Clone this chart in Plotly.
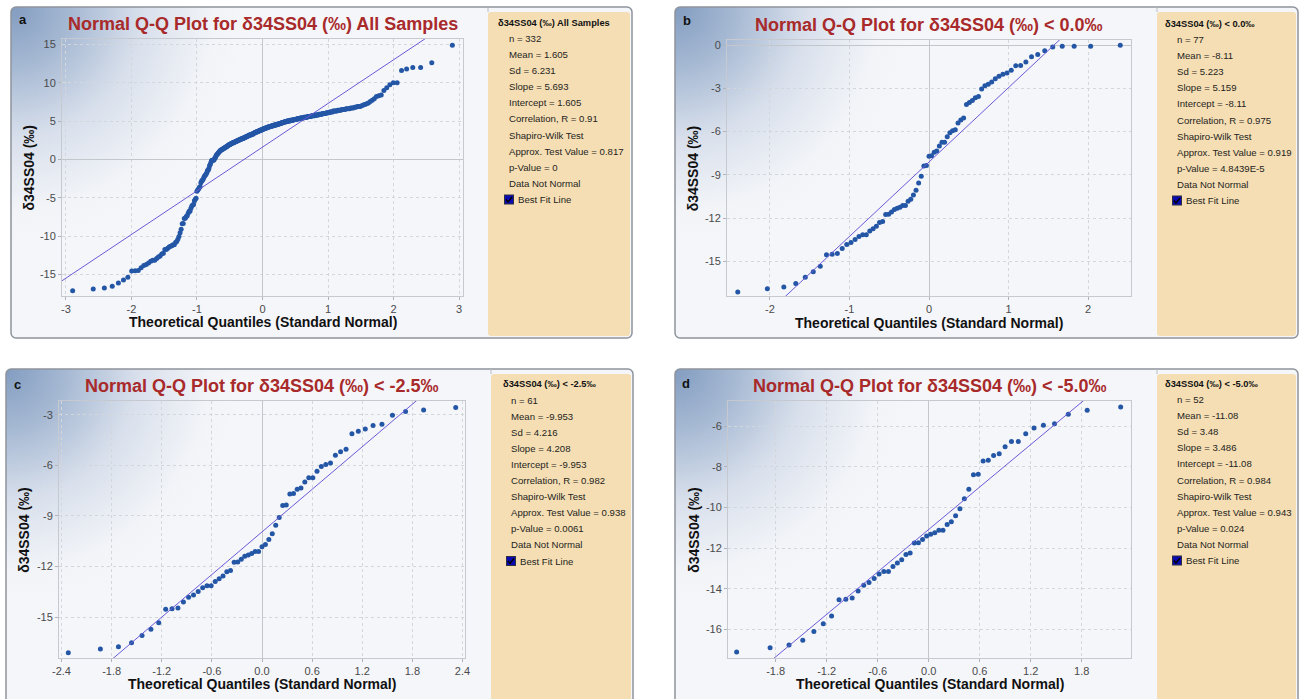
import base64
import statistics
import plotly.graph_objects as go

W, H = 1301, 699

# ---------------- data (sorted δ34S SO4 values) ----------------
d34s_sorted = [
    -17.12, -16.90, -16.77, -16.53, -16.10, -15.72, -15.34, -14.54, -14.51, -14.46,
    -14.11, -13.83, -13.69, -13.49, -13.27, -13.15, -13.15, -12.90, -12.73, -12.57,
    -12.31, -12.24, -11.75, -11.73, -11.57, -11.40, -11.32, -11.24, -11.12, -11.12,
    -10.83, -10.70, -10.40, -10.06, -9.56, -9.10, -8.38, -8.36, -7.71, -7.67,
    -7.43, -7.35, -7.00, -6.74, -6.74, -6.36, -6.08, -5.95, -5.87, -5.40,
    -5.20, -5.05, -4.13, -3.99, -3.85, -3.65, -3.57, -3.04, -2.82, -2.72,
    -2.57, -2.33, -2.17, -2.03, -1.94, -1.75, -1.43, -1.42, -1.18, -0.81,
    -0.65, -0.39, -0.14, -0.09, -0.09, -0.09, -0.02,
    0.2, 0.3, 0.5, 0.6, 0.7, 0.8, 0.9, 1.0, 1.1, 1.2,
    1.2, 1.3, 1.3, 1.4, 1.4, 1.5, 1.5, 1.6, 1.6, 1.7,
    1.7, 1.8, 1.8, 1.9, 1.9, 1.9, 2.0, 2.0, 2.1, 2.1, 2.1, 2.2, 2.2,
    2.2, 2.3, 2.3, 2.3, 2.4, 2.4, 2.4, 2.5, 2.5, 2.5, 2.6, 2.6, 2.6, 2.7, 2.7, 2.7, 2.7,
    2.8, 2.8, 2.8, 2.9, 2.9, 2.9, 3.0, 3.0, 3.0, 3.1, 3.1, 3.1, 3.2, 3.2, 3.2, 3.2, 3.3, 3.3, 3.3, 3.3,
    3.4, 3.4, 3.4, 3.5, 3.5, 3.5, 3.6, 3.6, 3.6, 3.6, 3.7, 3.7, 3.7, 3.8, 3.8, 3.8, 3.8, 3.9, 3.9,
    3.9, 4.0, 4.0, 4.0, 4.0, 4.1, 4.1, 4.1, 4.1, 4.2, 4.2, 4.2, 4.2, 4.3, 4.3, 4.3, 4.3, 4.3, 4.4, 4.4, 4.4, 4.4, 4.4,
    4.5, 4.5, 4.5, 4.5, 4.5, 4.6, 4.6, 4.6, 4.6, 4.6, 4.7, 4.7, 4.7, 4.7, 4.7, 4.8, 4.8, 4.8, 4.8, 4.8,
    4.9, 4.9, 4.9, 4.9, 4.9, 5.0, 5.0,
    5.0, 5.0, 5.0, 5.0, 5.1, 5.1, 5.1, 5.1, 5.1, 5.1, 5.2, 5.2, 5.2, 5.2, 5.2, 5.2, 5.3, 5.3, 5.3, 5.3, 5.3, 5.3, 5.4,
    5.4, 5.4, 5.4, 5.4, 5.4, 5.5, 5.5, 5.5, 5.5, 5.5, 5.5, 5.6, 5.6, 5.6, 5.6, 5.6, 5.6, 5.7, 5.7, 5.7, 5.7,
    5.7, 5.7, 5.8, 5.8, 5.8, 5.8, 5.8, 5.9, 5.9, 5.9, 5.9, 5.9, 6.0, 6.0, 6.0, 6.0, 6.0, 6.1, 6.1, 6.1,
    6.1, 6.2, 6.2, 6.2, 6.2, 6.3, 6.3, 6.3, 6.3, 6.3,
    6.4, 6.4, 6.4, 6.4, 6.5, 6.5, 6.5,
    6.5, 6.6, 6.6, 6.6, 6.6, 6.7,
    6.7, 6.7, 6.8, 6.8, 6.9,
    6.9, 6.9, 7.0,
    7.1, 7.15, 7.25, 7.35, 7.55, 7.7, 7.9, 8.2, 8.3, 8.4, 9.0, 9.35, 9.75, 10.0, 10.0,
    11.6, 11.8, 12.0, 12.0, 12.6, 14.9,
]

panel_letters = ["a", "b", "c", "d"]
panel_titles = [
    "Normal Q-Q Plot for δ34SS04 (‰) All Samples",
    "Normal Q-Q Plot for δ34SS04 (‰) < 0.0‰",
    "Normal Q-Q Plot for δ34SS04 (‰) < -2.5‰",
    "Normal Q-Q Plot for δ34SS04 (‰) < -5.0‰",
]
panel_headers = [
    "δ34SS04 (‰) All Samples",
    "δ34SS04 (‰) < 0.0‰",
    "δ34SS04 (‰) < -2.5‰",
    "δ34SS04 (‰) < -5.0‰",
]
panel_upper_limits = [None, 0.0, -2.5, -5.0]
stat_n = [332, 77, 61, 52]
stat_mean = ["1.605", "-8.11", "-9.953", "-11.08"]
stat_sd = ["6.231", "5.223", "4.216", "3.48"]
fit_slope = [5.693, 5.159, 4.208, 3.486]
fit_intercept = [1.605, -8.11, -9.953, -11.08]
stat_r = ["0.91", "0.975", "0.982", "0.984"]
sw_value = ["0.817", "0.919", "0.938", "0.943"]
sw_p = ["0", "4.8439E-5", "0.0061", "0.024"]

x_tick_values = [
    [-3, -2, -1, 0, 1, 2, 3],
    [-2, -1, 0, 1, 2],
    [-2.4, -1.8, -1.2, -0.6, 0.0, 0.6, 1.2, 1.8, 2.4],
    [-1.8, -1.2, -0.6, 0.0, 0.6, 1.2, 1.8],
]
x_tick_decimals = [0, 0, 1, 1]
y_tick_values = [
    [-15, -10, -5, 0, 5, 10, 15],
    [-15, -12, -9, -6, -3, 0],
    [-15, -12, -9, -6, -3],
    [-16, -14, -12, -10, -8, -6],
]
x_title = "Theoretical Quantiles (Standard Normal)"
y_title = "δ34SS04 (‰)"

# ---------------- layout geometry (pixels) ----------------
plot_boxes = [(62, 39, 463, 296), (727, 40, 1131, 296), (59, 401, 465, 658), (728, 401, 1131, 658)]
x_ranges = [(-3.06, 3.06), (-2.54, 2.54), (-2.43, 2.43), (-2.36, 2.38)]
y_ranges = [(-17.8, 15.7), (-17.4, 0.35), (-17.43, -2.19), (-17.41, -4.75)]
frames = [(11, 7, 632, 338), (675, 7, 1298, 338), (6, 369, 633, 708), (675, 369, 1298, 708)]
tan_boxes = [(488, 12, 630, 336), (1157, 12, 1296, 336), (491, 374, 631, 708), (1157, 374, 1296, 708)]
header_pos = [(496, 23), (1163, 24.3), (501, 384), (1163, 384.3)]
line_x = [507, 1175, 509, 1175]
line_y0 = [38.5, 39.5, 400, 399.5]
line_step = 16.1
letter_pos = [(22.7, 20), (686.7, 20.7), (17.3, 384), (686, 383.3)]
title_y = [24, 24.7, 386, 385.7]
xtitle_y = [322, 322.7, 684, 684]
ytitle_x = [28, 693.3, 23.3, 693.3]

FONT = "Liberation Sans, Arial, sans-serif"
INFO_FONT = "Liberation Sans, Arial, sans-serif"
MARKER_COLOR = "#2456a6"
LINE_COLOR = "#6a5ad8"
TITLE_COLOR = "#a82a2a"


def px(x):
    return x / W


def py(y):
    return 1 - y / H


# ---------------- background image (frames, gradient, info boxes, checkboxes) ----------------
svg = [f'<svg xmlns="http://www.w3.org/2000/svg" width="{W}" height="{H}" viewBox="0 0 {W} {H}"><defs>']
for k, (x0, y0, x1, y1) in enumerate(frames):
    svg.append(
        f'<radialGradient id="g{k}" gradientUnits="userSpaceOnUse" cx="{x0}" cy="{y0}" r="240">'
        '<stop offset="0" stop-color="#829cc0"/><stop offset="0.25" stop-color="#a6b9d3"/>'
        '<stop offset="0.55" stop-color="#d9e0ec"/><stop offset="0.85" stop-color="#f2f4f8"/>'
        '<stop offset="1" stop-color="#f5f6fa"/></radialGradient>'
    )
svg.append('</defs>')
for k, (x0, y0, x1, y1) in enumerate(frames):
    svg.append(
        f'<rect x="{x0}" y="{y0}" width="{x1 - x0}" height="{y1 - y0}" rx="5" ry="5" '
        f'fill="url(#g{k})" stroke="#8e949c" stroke-width="1.5"/>'
    )
    tx0, ty0, tx1, ty1 = tan_boxes[k]
    svg.append(f'<line x1="{tx0}" y1="{y0}" x2="{tx0}" y2="{ty0}" stroke="#b8bcc2" stroke-width="1"/>')
    svg.append(f'<rect x="{tx0}" y="{ty0}" width="{tx1 - tx0}" height="{ty1 - ty0}" rx="3" ry="3" fill="#f5deb3"/>')
    cy = line_y0[k] + 10 * line_step
    cx = line_x[k] + 2
    svg.append(f'<rect x="{cx - 4.5}" y="{cy - 4.5}" width="9" height="9" fill="#0a0ab4" stroke="#303040" stroke-width="1"/>')
    svg.append(f'<path d="M{cx - 3} {cy} L{cx - 1} {cy + 2.5} L{cx + 3} {cy - 2.5}" fill="none" stroke="#000" stroke-width="1.4"/>')
svg.append('</svg>')
svg_uri = "data:image/svg+xml;base64," + base64.b64encode("".join(svg).encode("utf-8")).decode("ascii")

# ---------------- figure ----------------
fig = go.Figure()
nd = statistics.NormalDist()
annotations = []
layout_axes = {}

for k in range(4):
    limit = panel_upper_limits[k]
    sample = [v for v in d34s_sorted if (limit is None or v < limit)]
    n = len(sample)
    theo = [nd.inv_cdf((i + 1 - 0.375) / (n + 0.25)) for i in range(n)]
    ax = "" if k == 0 else str(k + 1)
    xr = x_ranges[k]
    fig.add_trace(go.Scatter(
        x=theo, y=sample, mode="markers", xaxis="x" + ax, yaxis="y" + ax,
        marker=dict(color=MARKER_COLOR, size=5, line=dict(width=0)),
        showlegend=False, hoverinfo="x+y",
    ))
    fig.add_trace(go.Scatter(
        x=[xr[0], xr[1]], y=[fit_intercept[k] + fit_slope[k] * xr[0], fit_intercept[k] + fit_slope[k] * xr[1]],
        mode="lines", xaxis="x" + ax, yaxis="y" + ax,
        line=dict(color=LINE_COLOR, width=1), showlegend=False, hoverinfo="skip",
    ))

    x0, y0, x1, y1 = plot_boxes[k]
    dec = x_tick_decimals[k]
    common = dict(
        showline=True, mirror=True, linecolor="#c6cad0", linewidth=1,
        showgrid=True, gridcolor="#d3d6da", griddash="dot", gridwidth=1,
        zeroline=True, zerolinecolor="#c3c6cb", zerolinewidth=1,
        ticks="outside", ticklen=3, tickcolor="#b0b4ba",
        tickfont=dict(family=FONT, size=11, color="#4a4a4a"),
        fixedrange=True, automargin=False,
    )
    layout_axes["xaxis" + ax] = dict(
        common, domain=[px(x0), px(x1)], range=list(xr), anchor="y" + ax,
        tickmode="array", tickvals=x_tick_values[k],
        ticktext=[f"{v:.{dec}f}" for v in x_tick_values[k]],
    )
    layout_axes["yaxis" + ax] = dict(
        common, domain=[py(y1), py(y0)], range=list(y_ranges[k]), anchor="x" + ax,
        tickmode="array", tickvals=y_tick_values[k],
        ticktext=[f"{v:g}" for v in y_tick_values[k]],
    )

    cx = (x0 + x1) / 2
    cyp = (y0 + y1) / 2
    annotations.append(dict(
        text="<b>" + panel_titles[k] + "</b>", x=px(cx), y=py(title_y[k]), xref="paper", yref="paper",
        xanchor="center", yanchor="middle", showarrow=False,
        font=dict(family=FONT, size=18, color=TITLE_COLOR),
    ))
    annotations.append(dict(
        text="<b>" + panel_letters[k] + "</b>", x=px(letter_pos[k][0]), y=py(letter_pos[k][1]),
        xref="paper", yref="paper", xanchor="center", yanchor="middle", showarrow=False,
        font=dict(family=FONT, size=13, color="#111"),
    ))
    annotations.append(dict(
        text="<b>" + x_title + "</b>", x=px(cx), y=py(xtitle_y[k]), xref="paper", yref="paper",
        xanchor="center", yanchor="middle", showarrow=False,
        font=dict(family=FONT, size=14, color="#111"),
    ))
    annotations.append(dict(
        text="<b>" + y_title + "</b>", x=px(ytitle_x[k]), y=py(cyp), xref="paper", yref="paper",
        xanchor="center", yanchor="middle", showarrow=False, textangle=-90,
        font=dict(family=FONT, size=14, color="#111"),
    ))
    annotations.append(dict(
        text="<b>" + panel_headers[k] + "</b>", x=px(header_pos[k][0]), y=py(header_pos[k][1]),
        xref="paper", yref="paper", xanchor="left", yanchor="middle", showarrow=False,
        font=dict(family=INFO_FONT, size=9.3, color="#111"),
    ))
    info_lines = [
        f"n = {stat_n[k]}",
        f"Mean = {stat_mean[k]}",
        f"Sd = {stat_sd[k]}",
        f"Slope = {fit_slope[k]}",
        f"Intercept = {fit_intercept[k]}",
        f"Correlation, R = {stat_r[k]}",
        "Shapiro-Wilk Test",
        f"Approx. Test Value = {sw_value[k]}",
        f"p-Value = {sw_p[k]}",
        "Data Not Normal",
    ]
    for j, t in enumerate(info_lines):
        annotations.append(dict(
            text=t, x=px(line_x[k]), y=py(line_y0[k] + j * line_step), xref="paper", yref="paper",
            xanchor="left", yanchor="middle", showarrow=False,
            font=dict(family=INFO_FONT, size=9.6, color="#1e1e1e"),
        ))
    annotations.append(dict(
        text="Best Fit Line", x=px(line_x[k] + 9), y=py(line_y0[k] + 10 * line_step), xref="paper", yref="paper",
        xanchor="left", yanchor="middle", showarrow=False,
        font=dict(family=INFO_FONT, size=9.6, color="#1e1e1e"),
    ))

fig.update_layout(
    width=W, height=H,
    margin=dict(l=0, r=0, t=0, b=0, pad=0, autoexpand=False),
    paper_bgcolor="white",
    plot_bgcolor="rgba(0,0,0,0)",
    showlegend=False,
    annotations=annotations,
    images=[dict(source=svg_uri, xref="paper", yref="paper", x=0, y=1, sizex=1, sizey=1,
                 xanchor="left", yanchor="top", sizing="stretch", layer="below")],
    **layout_axes,
)

fig.write_html(
    "out.html",
    config={"displayModeBar": False},
    post_script="document.body.style.margin='0';document.body.style.overflow='hidden';",
)
